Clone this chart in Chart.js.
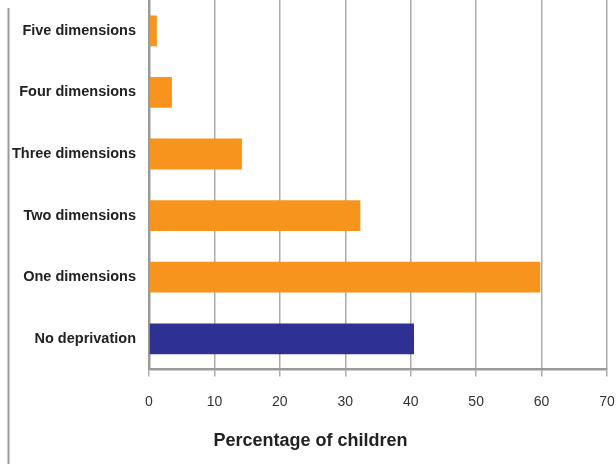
<!DOCTYPE html>
<html>
<head>
<meta charset="utf-8">
<script src="https://cdn.jsdelivr.net/npm/chart.js@4/dist/chart.umd.min.js"></script>
<style>
  html, body { margin: 0; padding: 0; background: #fff; }
  #wrap { position: relative; width: 616px; height: 464px; }
</style>
</head>
<body>
<div id="wrap"><canvas id="c" width="616" height="464"></canvas></div>
<script>
// Deprivation categories, top to bottom
const categories = [
  'Five dimensions',
  'Four dimensions',
  'Three dimensions',
  'Two dimensions',
  'One dimensions',
  'No deprivation'
];
// Percentage of children in each category
const values = [1.2, 3.5, 14.2, 32.3, 59.8, 40.5];
// Axis ticks
const xTicks = [0, 10, 20, 30, 40, 50, 60, 70];
const xTitle = 'Percentage of children';

const ORANGE = '#F7941E';
const NAVY = '#2E3192';
const barColors = categories.map(c => c === 'No deprivation' ? NAVY : ORANGE);

const sans = '"Liberation Sans", Arial, Helvetica, sans-serif';

// thin rule down the left edge of the figure, and room for long category names
const leftRule = {
  id: 'leftRule',
  afterLayout(chart) {
    // let the category labels use the space left of the axis box
    chart.scales.y.left = 0;
  },
  afterDraw(chart) {
    const ctx = chart.ctx;
    ctx.save();
    ctx.strokeStyle = '#9a9a9a';
    ctx.lineWidth = 2;
    ctx.beginPath();
    ctx.moveTo(8.5, 8);
    ctx.lineTo(8.5, chart.height);
    ctx.stroke();
    ctx.restore();
  }
};

new Chart(document.getElementById('c'), {
  type: 'bar',
  data: {
    labels: categories,
    datasets: [{
      data: values,
      backgroundColor: barColors,
      borderWidth: 0,
      barPercentage: 0.5,
      categoryPercentage: 1.0
    }]
  },
  options: {
    indexAxis: 'y',
    responsive: false,
    animation: false,
    layout: { padding: { left: 14, right: 9, top: 0, bottom: 0 } },
    plugins: {
      legend: { display: false },
      tooltip: { enabled: false },
      title: {
        display: true,
        position: 'bottom',
        text: xTitle,
        color: '#222',
        font: { family: sans, size: 18, weight: 'bold' },
        padding: { top: 3, bottom: 12 }
      }
    },
    scales: {
      x: {
        min: xTicks[0],
        max: xTicks[xTicks.length - 1],
        afterBuildTicks(scale) {
          scale.ticks = xTicks.map(v => ({ value: v }));
        },
        afterFit(scale) {
          scale.paddingLeft = 0;
          scale.paddingRight = 0;
        },
        grid: {
          color: '#ababab',
          lineWidth: 1.5,
          drawTicks: true,
          tickLength: 7
        },
        border: { color: '#9a9a9a', width: 2.5 },
        ticks: {
          color: '#333',
          padding: 17,
          maxRotation: 0,
          font: { family: sans, size: 14 }
        }
      },
      y: {
        afterFit(scale) {
          scale.width = 135;
          scale.paddingTop = 0;
          scale.paddingBottom = 0;
        },
        grid: { display: false, drawTicks: false },
        border: { color: '#9a9a9a', width: 2.5 },
        ticks: {
          color: '#222',
          padding: 13,
          font: { family: sans, size: 14.5, weight: 'bold' }
        }
      }
    }
  },
  plugins: [leftRule]
});
</script>
</body>
</html>
